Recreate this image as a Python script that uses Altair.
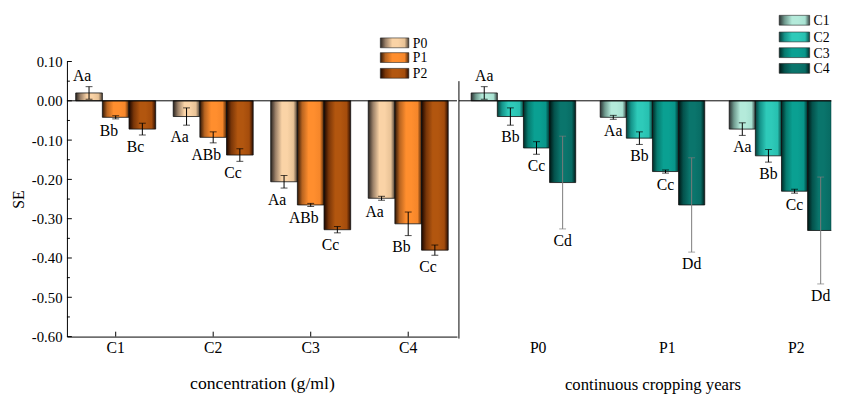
import altair as alt
import pandas as pd

FONT = "Liberation Serif"

# ---------------- data ----------------
concentrations = ["C1", "C2", "C3", "C4"]
years = ["P0", "P1", "P2"]

# left panel: SE by concentration, one bar per year
left_values = {
    "P0": [0.020, -0.040, -0.206, -0.248],
    "P1": [-0.042, -0.093, -0.265, -0.313],
    "P2": [-0.072, -0.138, -0.328, -0.380],
}
left_errors = {
    "P0": [0.016, 0.022, 0.016, 0.005],
    "P1": [0.004, 0.014, 0.004, 0.030],
    "P2": [0.015, 0.016, 0.008, 0.013],
}
left_letters = {
    "P0": ["Aa", "Aa", "Aa", "Aa"],
    "P1": ["Bb", "ABb", "ABb", "Bb"],
    "P2": ["Bc", "Cc", "Cc", "Cc"],
}

# right panel: SE by continuous cropping year, one bar per concentration
right_values = {
    "C1": [0.020, -0.042, -0.072],
    "C2": [-0.040, -0.095, -0.140],
    "C3": [-0.120, -0.180, -0.230],
    "C4": [-0.208, -0.265, -0.330],
}
right_errors = {
    "C1": [0.016, 0.005, 0.016],
    "C2": [0.022, 0.016, 0.016],
    "C3": [0.016, 0.004, 0.005],
    "C4": [0.118, 0.120, 0.136],
}
right_letters = {
    "C1": ["Aa", "Aa", "Aa"],
    "C2": ["Bb", "Bb", "Bb"],
    "C3": ["Cc", "Cc", "Cc"],
    "C4": ["Cd", "Dd", "Dd"],
}

y_major = [0.1, 0.0, -0.1, -0.2, -0.3, -0.4, -0.5, -0.6]
y_minor = [0.05, -0.05, -0.15, -0.25, -0.35, -0.45, -0.55]


def grad(edge_l, mid1, light, mid2, edge_r):
    return alt.LinearGradient(
        gradient="linear", x1=0, x2=1, y1=0, y2=0,
        stops=[
            alt.GradientStop(offset=0, color=edge_l),
            alt.GradientStop(offset=0.18, color=mid1),
            alt.GradientStop(offset=0.42, color=light),
            alt.GradientStop(offset=0.62, color=light),
            alt.GradientStop(offset=0.85, color=mid2),
            alt.GradientStop(offset=1, color=edge_r),
        ],
    )


year_grads = {
    "P0": grad("#2a2420", "#9a8068", "#fad3a6", "#e8c296", "#4a3e34"),
    "P1": grad("#2e1606", "#b86420", "#ff8e2e", "#f5862a", "#4a2408"),
    "P2": grad("#1c0700", "#7a3608", "#b2560f", "#a44c0c", "#2a0c00"),
}
conc_grads = {
    "C1": grad("#2c3434", "#6f9a8e", "#b4eada", "#a8e2d2", "#3a4846"),
    "C2": grad("#073c38", "#14948a", "#2ecab9", "#27c0b0", "#0a4a44"),
    "C3": grad("#002a26", "#067a6e", "#0aa092", "#08968a", "#00322e"),
    "C4": grad("#001614", "#04524c", "#0a756c", "#086c64", "#001c1a"),
}

H = 280
YSCALE = alt.Scale(domain=[-0.6, 0.1], nice=False, zero=False)
LABEL_EXPR = "replace(format(datum.value, '.2f'), '\u2212', '-')"


def make_df(groups, gfield, values, errors, letters):
    rows = []
    for s, vals in values.items():
        for i, g in enumerate(groups):
            v = vals[i]
            e = errors[s][i]
            rows.append({gfield: g, "series": s, "value": v,
                         "lo": v - e, "hi": v + e, "label": letters[s][i]})
    return pd.DataFrame(rows)


def panel(groups, gfield, series, values, errors, letters, grads,
          width, xscale, xaxis, yaxis, label_dx, err_color,
          legend_x, legend_tops, legend_h, legend_w, extra_layers):
    df = make_df(groups, gfield, values, errors, letters)
    xo = alt.XOffset("series:N", scale=alt.Scale(domain=series, paddingInner=0, paddingOuter=0))

    def xenc(field):
        return alt.X(field, scale=xscale, axis=xaxis)

    def yenc(field):
        return alt.Y(field, scale=YSCALE, axis=yaxis)

    xplain = xenc(f"{gfield}:N")
    layers = []
    # bars
    for s in series:
        d = df[df.series == s]
        layers.append(
            alt.Chart(d).mark_bar(fill=grads[s], stroke="#111111", strokeWidth=0.8, clip=True)
            .encode(x=xplain, xOffset=xo, y=yenc("value:Q"))
        )
    # zero line
    layers.append(
        alt.Chart(pd.DataFrame({"value": [0]})).mark_rule(color="black", strokeWidth=1)
        .encode(y=yenc("value:Q"), x=alt.value(0), x2=alt.value(width))
    )
    # error bars
    layers.append(
        alt.Chart(df).mark_rule(strokeWidth=1)
        .encode(x=xplain, xOffset=xo, y=yenc("lo:Q"), y2="hi:Q", color=err_color)
    )
    for f in ["lo", "hi"]:
        layers.append(
            alt.Chart(df).mark_tick(size=7, thickness=1)
            .encode(x=xplain, xOffset=xo, y=yenc(f"{f}:Q"), color=err_color)
        )
    # letters
    layers.append(
        alt.Chart(df[df.value < 0]).mark_text(baseline="top", dy=4, dx=label_dx, font=FONT,
                                              fontSize=16, color="black")
        .encode(x=xplain, xOffset=xo, y=yenc("lo:Q"), text="label:N")
    )
    layers.append(
        alt.Chart(df[df.value >= 0]).mark_text(baseline="bottom", dy=-3, dx=label_dx, font=FONT,
                                               fontSize=16, color="black")
        .encode(x=xplain, xOffset=xo, y=yenc("hi:Q"), text="label:N")
    )
    # legend
    for s, top in zip(series, legend_tops):
        one = pd.DataFrame({"name": [s]})
        layers.append(
            alt.Chart(one).mark_rect(fill=grads[s], stroke="#222222", strokeWidth=0.6)
            .encode(x=alt.value(legend_x), x2=alt.value(legend_x + legend_w),
                    y=alt.value(top), y2=alt.value(top + legend_h))
        )
        layers.append(
            alt.Chart(one).mark_text(align="left", baseline="middle", font=FONT, fontSize=14,
                                     color="black")
            .encode(x=alt.value(legend_x + legend_w + 4), y=alt.value(top + legend_h / 2 + 1),
                    text="name:N")
        )
    for lay in extra_layers:
        layers.append(lay(xenc, yenc))
    return alt.layer(*layers).properties(width=width, height=H)


# ---------- left panel ----------
left_xscale = alt.Scale(domain=concentrations, paddingInner=0.18, paddingOuter=0.09)
left_xaxis = alt.Axis(title="concentration (g/ml)", labelAngle=0, ticks=False, labelPadding=3,
                      domainColor="black", labelFont=FONT, labelFontSize=16, labelColor="black",
                      titleFont=FONT, titleFontSize=18, titleFontWeight="normal", titleColor="black",
                      titlePadding=20)
left_yaxis = alt.Axis(title="SE", values=y_major, labelExpr=LABEL_EXPR, ticks=False, labelPadding=5,
                      labelFlush=False, labelOverlap=False, domainColor="black", grid=False,
                      labelFont=FONT, labelFontSize=15, labelColor="black",
                      titleFont=FONT, titleFontSize=16, titleFontWeight="normal", titleColor="black",
                      titlePadding=5)
left_extra = [
    lambda xenc, yenc: alt.Chart(pd.DataFrame({"value": y_major})).mark_rule(color="black")
    .encode(y=yenc("value:Q"), x=alt.value(0), x2=alt.value(5)),
    lambda xenc, yenc: alt.Chart(pd.DataFrame({"value": y_minor})).mark_rule(color="black")
    .encode(y=yenc("value:Q"), x=alt.value(0), x2=alt.value(3)),
    lambda xenc, yenc: alt.Chart(pd.DataFrame({"conc": concentrations})).mark_rule(color="black")
    .encode(x=xenc("conc:N"), y=alt.value(H), y2=alt.value(H - 5)),
]
left = panel(concentrations, "conc", years, left_values, left_errors, left_letters, year_grads,
             397, left_xscale, left_xaxis, left_yaxis, -7, alt.value("black"),
             319, [-24, -9, 7], 10, 29, left_extra)

# ---------- right panel ----------
right_xscale = alt.Scale(domain=years, paddingInner=0.19, paddingOuter=0.095, range=[0, 394])
right_xaxis = alt.Axis(title="continuous cropping years", labelAngle=0, ticks=False, domain=False,
                       labelPadding=3, labelOffset=15,
                       labelFont=FONT, labelFontSize=16, labelColor="black",
                       titleFont=FONT, titleFontSize=17, titleFontWeight="normal", titleColor="black",
                       titlePadding=22)
right_extra = [
    lambda xenc, yenc: alt.Chart(pd.DataFrame({"k": [0]})).mark_rule(color="black", strokeWidth=1)
    .encode(x=alt.value(0), y=alt.value(20), y2=alt.value(H + 2)),
]
err_col = alt.condition(alt.datum.series == "C4", alt.value("#7a7a7a"), alt.value("black"))
right = panel(years, "year", list(right_values.keys()), right_values, right_errors, right_letters,
              conc_grads, 379, right_xscale, right_xaxis, None, 0, err_col,
              326, [-47, -30, -14, 2], 10, 31, right_extra)

chart = (
    alt.hconcat(left, right, spacing=0)
    .resolve_scale(x="independent", xOffset="independent", y="independent")
    .properties(padding={"left": 2, "top": 3, "right": 0, "bottom": 0}, background="white")
    .configure_view(stroke=None)
)

chart.save("out.html", embed_options={"renderer": "svg", "actions": False})
